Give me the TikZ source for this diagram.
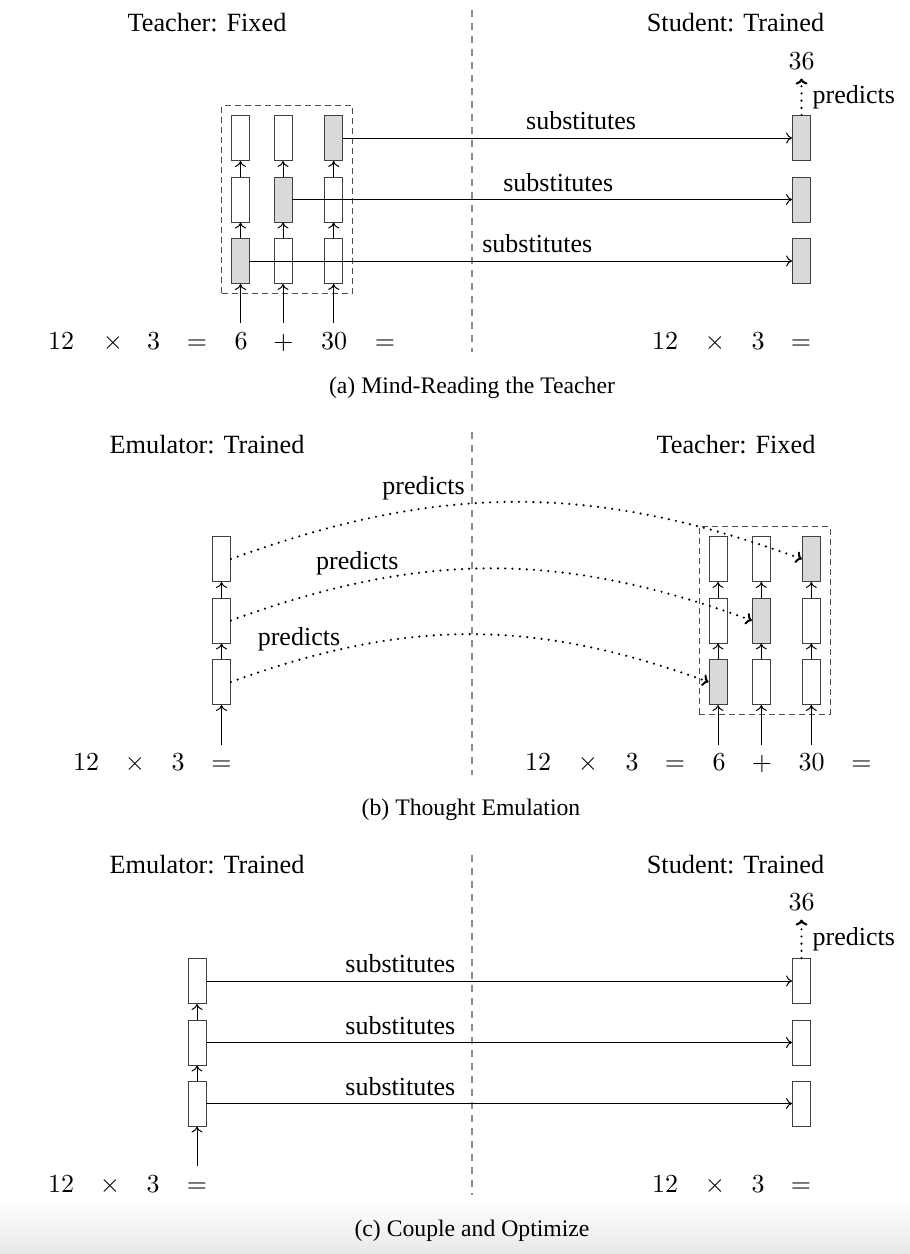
\documentclass[tikz,border=0pt]{standalone}
\usepackage{fontspec}
\setmainfont{Liberation Serif}
\usetikzlibrary{arrows.meta,fit}
\newcommand{\mth}[1]{\scalebox{2.6}{$#1$}}
\begin{document}
\begin{tikzpicture}[x=1pt,y=-1pt,
  cell/.style={draw=black!75, line width=0.9pt, minimum width=18pt, minimum height=45pt, inner sep=0pt, fill=white},
  gcell/.style={cell, fill=black!15},
  tok/.style={anchor=base, inner xsep=0pt, inner ysep=8pt, text height=18pt, text depth=0pt, font=\fontsize{10}{12}\selectfont},
  num/.style={anchor=base, inner xsep=0pt, inner ysep=9.3pt, text height=18pt, text depth=0pt, font=\fontsize{10}{12}\selectfont},
  ttl/.style={anchor=base, inner sep=0pt, font=\fontsize{26.3}{30}\selectfont},
  captxt/.style={anchor=base, inner sep=0pt, font=\fontsize{23.7}{28}\selectfont},
  sub/.style={above, inner sep=7.5pt, font=\fontsize{26}{30}\selectfont},
  prd/.style={above, inner sep=7.5pt, font=\fontsize{26}{30}\selectfont},
  prdr/.style={right, inner xsep=10pt, inner ysep=2pt, font=\fontsize{26}{30}\selectfont},
  arr/.style={line width=0.9pt, -{Computer Modern Rightarrow[length=6pt,width=11pt,line width=1pt]}},
  dots/.style={line width=2.4pt, line cap=round, dash pattern=on 0pt off 7.2pt, -{Computer Modern Rightarrow[length=6pt,width=12pt,line width=2pt]}},
  divider/.style={draw=black!45, line width=1.5pt, dash pattern=on 7pt off 6pt},
  dbox/.style={draw=black!70, line width=0.9pt, dash pattern=on 6pt off 4pt, inner sep=9.3pt},
]
\useasboundingbox (0,0) rectangle (910,1254);
\shade[top color=white, bottom color=black!9] (0,1200) rectangle (910,1254);

% ================= (a) =================
\node[ttl] (aT1) at (207,31.7) {Teacher: Fixed};
\node[ttl] (aT2) at (735.5,31.7) {Student: Trained};
\draw[divider] (472,10) -- (472,352);

\node[gcell] (A11) at (240.5,261) {};
\node[cell]  (A12) at (240.5,199.5) {};
\node[cell]  (A13) at (240.5,138) {};
\node[cell]  (A21) at (283,261) {};
\node[gcell] (A22) at (283,199.5) {};
\node[cell]  (A23) at (283,138) {};
\node[cell]  (A31) at (333.7,261) {};
\node[cell]  (A32) at (333.7,199.5) {};
\node[gcell] (A33) at (333.7,138) {};
\node[dbox, fit=(A11)(A33)] (Abox) {};

\node[gcell] (AS1) at (801.5,261) {};
\node[gcell] (AS2) at (801.5,199.5) {};
\node[gcell] (AS3) at (801.5,138) {};

\node[tok] (a1) at (61,349) {\mth{12}};
\node[tok] (a2) at (113,349) {\mth{\times}};
\node[tok] (a3) at (153.5,349) {\mth{3}};
\node[tok] (a4) at (197,349) {\mth{=}};
\node[tok] (a5) at (241,349) {\mth{6}};
\node[tok] (a6) at (283.5,349) {\mth{+}};
\node[tok] (a7) at (334,349) {\mth{30}};
\node[tok] (a8) at (385,349) {\mth{=}};
\node[tok] (ar1) at (665,349) {\mth{12}};
\node[tok] (ar2) at (715,349) {\mth{\times}};
\node[tok] (ar3) at (758,349) {\mth{3}};
\node[tok] (ar4) at (801,349) {\mth{=}};

\draw[arr] (A11.south |- a5.north) -- (A11.south);
\draw[arr] (A21.south |- a6.north) -- (A21.south);
\draw[arr] (A31.south |- a7.north) -- (A31.south);
\draw[arr] (A11) -- (A12);
\draw[arr] (A12) -- (A13);
\draw[arr] (A21) -- (A22);
\draw[arr] (A22) -- (A23);
\draw[arr] (A31) -- (A32);
\draw[arr] (A32) -- (A33);

\draw[arr] (A33.east) -- node[sub, pos=.53] {substitutes} (AS3.west);
\draw[arr] (A22.east) -- node[sub, pos=.532] {substitutes} (AS2.west);
\draw[arr] (A11.east) -- node[sub, pos=.53] {substitutes} (AS1.west);

\node[num] (a36) at (801.5,69) {\mth{36}};
\draw[dots] (AS3.north) -- node[prdr] {predicts} (AS3.north |- a36.south);

\node[captxt] (acap) at (472,393) {(a) Mind-Reading the Teacher};

% ================= (b) =================
\node[ttl] (bT1) at (207,453) {Emulator: Trained};
\node[ttl] (bT2) at (736,453) {Teacher: Fixed};
\draw[divider] (472,432) -- (472,775);

\node[cell] (E1) at (221.5,682) {};
\node[cell] (E2) at (221.5,620.5) {};
\node[cell] (E3) at (221.5,559) {};

\node[gcell] (B11) at (718,682) {};
\node[cell]  (B12) at (718,620.5) {};
\node[cell]  (B13) at (718,559) {};
\node[cell]  (B21) at (761.3,682) {};
\node[gcell] (B22) at (761.3,620.5) {};
\node[cell]  (B23) at (761.3,559) {};
\node[cell]  (B31) at (811.3,682) {};
\node[cell]  (B32) at (811.3,620.5) {};
\node[gcell] (B33) at (811.3,559) {};
\node[dbox, fit=(B11)(B33)] (Bbox) {};

\node[tok] (b1) at (86,770.7) {\mth{12}};
\node[tok] (b2) at (135,770.7) {\mth{\times}};
\node[tok] (b3) at (178,770.7) {\mth{3}};
\node[tok] (b4) at (221.5,770.7) {\mth{=}};
\node[tok] (br1) at (538,770.7) {\mth{12}};
\node[tok] (br2) at (588,770.7) {\mth{\times}};
\node[tok] (br3) at (632,770.7) {\mth{3}};
\node[tok] (br4) at (675,770.7) {\mth{=}};
\node[tok] (br5) at (719,770.7) {\mth{6}};
\node[tok] (br6) at (762,770.7) {\mth{+}};
\node[tok] (br7) at (811.5,770.7) {\mth{30}};
\node[tok] (br8) at (861.5,770.7) {\mth{=}};

\draw[arr] (E1.south |- b4.north) -- (E1.south);
\draw[arr] (E1) -- (E2);
\draw[arr] (E2) -- (E3);
\draw[arr] (B11.south |- br5.north) -- (B11.south);
\draw[arr] (B21.south |- br6.north) -- (B21.south);
\draw[arr] (B31.south |- br7.north) -- (B31.south);
\draw[arr] (B11) -- (B12);
\draw[arr] (B12) -- (B13);
\draw[arr] (B21) -- (B22);
\draw[arr] (B22) -- (B23);
\draw[arr] (B31) -- (B32);
\draw[arr] (B32) -- (B33);

\draw[dots] (E3.east) to[bend left=20] node[prd, pos=.33] {predicts} (B33.west);
\draw[dots] (E2.east) to[bend left=20] node[prd, pos=.233] {predicts} (B22.west);
\draw[dots] (E1.east) to[bend left=20] node[prd, pos=.134] {predicts} (B11.west);

\node[captxt] (bcap) at (471,815) {(b) Thought Emulation};

% ================= (c) =================
\node[ttl] (cT1) at (207,873.3) {Emulator: Trained};
\node[ttl] (cT2) at (735.5,873.3) {Student: Trained};
\draw[divider] (472,855) -- (472,1195);

\node[cell] (F1) at (197,1103.5) {};
\node[cell] (F2) at (197,1042.5) {};
\node[cell] (F3) at (197,981) {};

\node[cell] (CS1) at (801.5,1103.5) {};
\node[cell] (CS2) at (801.5,1042.5) {};
\node[cell] (CS3) at (801.5,981) {};

\node[tok] (c1) at (61,1192) {\mth{12}};
\node[tok] (c2) at (110,1192) {\mth{\times}};
\node[tok] (c3) at (153,1192) {\mth{3}};
\node[tok] (c4) at (197,1192) {\mth{=}};
\node[tok] (cr1) at (665,1192) {\mth{12}};
\node[tok] (cr2) at (715,1192) {\mth{\times}};
\node[tok] (cr3) at (758,1192) {\mth{3}};
\node[tok] (cr4) at (801,1192) {\mth{=}};

\draw[arr] (F1.south |- c4.north) -- (F1.south);
\draw[arr] (F1) -- (F2);
\draw[arr] (F2) -- (F3);

\draw[arr] (F3.east) -- node[sub, pos=.331] {substitutes} (CS3.west);
\draw[arr] (F2.east) -- node[sub, pos=.331] {substitutes} (CS2.west);
\draw[arr] (F1.east) -- node[sub, pos=.331] {substitutes} (CS1.west);

\node[num] (c36) at (801.5,910) {\mth{36}};
\draw[dots] (CS3.north) -- node[prdr] {predicts} (CS3.north |- c36.south);

\node[captxt] (ccap) at (472,1236) {(c) Couple and Optimize};
\end{tikzpicture}
\end{document}
